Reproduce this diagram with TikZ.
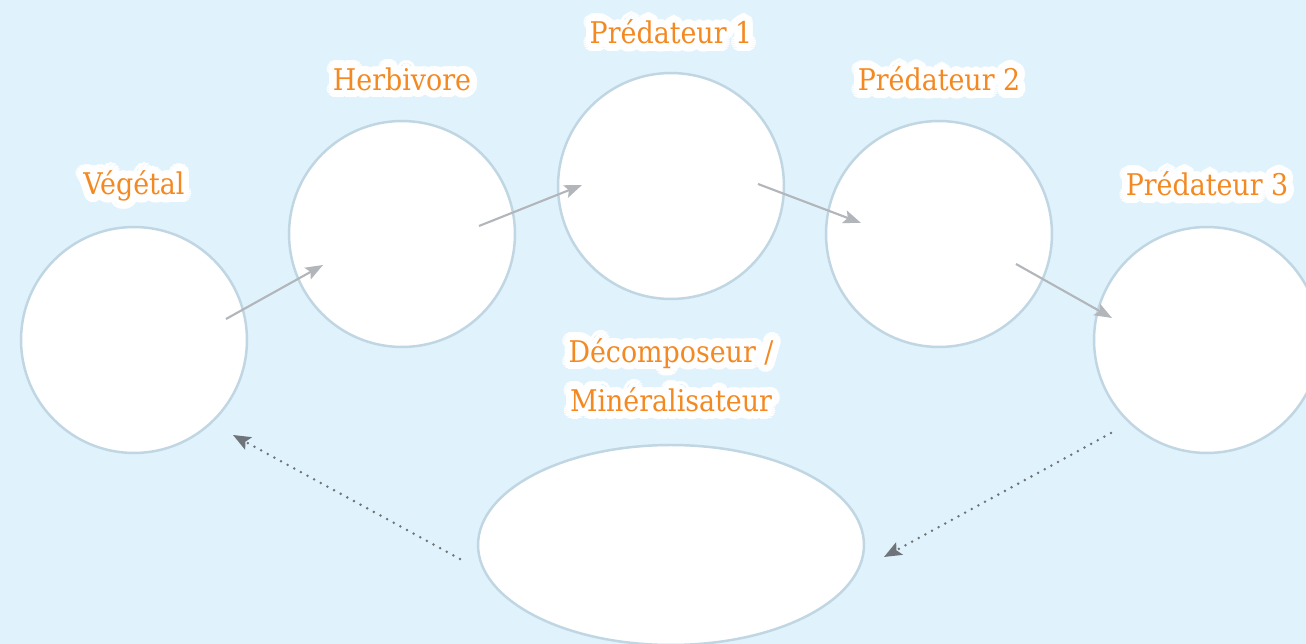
\documentclass[tikz,border=0pt]{standalone}
\usepackage{fontspec}
\setmainfont{DejaVu Serif Condensed}
\usetikzlibrary{arrows.meta,shapes.geometric}

\definecolor{fond}{RGB}{224,242,252}
\definecolor{bord}{RGB}{192,214,227}
\definecolor{orange}{RGB}{244,137,34}
\definecolor{gris}{RGB}{178,182,186}
\definecolor{grisfonce}{RGB}{110,116,121}

\tikzset{
  bulle/.style={circle,draw=bord,fill=white,line width=1.4pt,minimum size=4.52cm,inner sep=0pt},
  etiq/.style={text=orange,font=\fontsize{17}{28}\selectfont,align=center,inner sep=0pt},
  fleche/.style={draw=gris,line width=1.2pt,-{Stealth[length=10pt,width=7.5pt,inset=2pt]}},
  retour/.style={draw=grisfonce,line width=1.6pt,line cap=round,dash pattern=on 0pt off 4.3pt,
    -{Stealth[length=10pt,width=8pt,inset=2pt]}}
}

% etiquette avec halo blanc
\newcommand\halotext[3]{%
  \foreach \a in {0,15,...,345}
    \node[etiq,text=white] at ([shift={(\a:4.4pt)}]#2) {#3};
  \foreach \a in {0,30,...,330}
    \node[etiq,text=white] at ([shift={(\a:2.4pt)}]#2) {#3};
  \node[etiq] (#1) at (#2) {#3};
}

\begin{document}
\begin{tikzpicture}[x=0.02cm,y=-0.02cm]
	% Fond
	\fill[fond] (0,0) rectangle (1306,644);
	\useasboundingbox (0,0) rectangle (1306,644);
	% Cercles
	\node[bulle] (veg) at (134,340) {};
	\node[bulle] (herb) at (402,234) {};
	\node[bulle] (pred1) at (671,186) {};
	\node[bulle] (pred2) at (939,234) {};
	\node[bulle] (pred3) at (1207,340) {};
	\node[ellipse,draw=bord,fill=white,line width=1.4pt,minimum width=7.72cm,minimum height=4cm,inner sep=0pt] (decomp) at (671,545) {};
	% Etiquettes
	\halotext{tveg}{134,186}{Végétal}
	\halotext{therb}{402,79}{Herbivore}
	\halotext{tpred1}{671,32}{Prédateur 1}
	\halotext{tpred2}{939,79}{Prédateur 2}
	\halotext{tpred3}{1207,184}{Prédateur 3}
	\halotext{tdecomp}{671,375}{Décomposeur /\\Minéralisateur}
	% Points des fleches
	\coordinate (v1) at (226,319);
	\coordinate (h0) at (323,265);
	\coordinate (h1) at (479,226);
	\coordinate (p10) at (582,185);
	\coordinate (p11) at (758,184);
	\coordinate (p20) at (861,223);
	\coordinate (p21) at (1016,264);
	\coordinate (p30) at (1112,318);
	\coordinate (d0) at (460,559);
	\coordinate (v0) at (233,435);
	\coordinate (p31) at (1111,433);
	\coordinate (d1) at (884,557);
	% Fleches
	\draw[fleche] (v1) -- (h0);
	\draw[fleche] (h1) -- (p10);
	\draw[fleche] (p11) -- (p20);
	\draw[fleche] (p21) -- (p30);
	\draw[retour] (d0) -- (v0);
	\draw[retour] (p31) -- (d1);
\end{tikzpicture}
\end{document}
